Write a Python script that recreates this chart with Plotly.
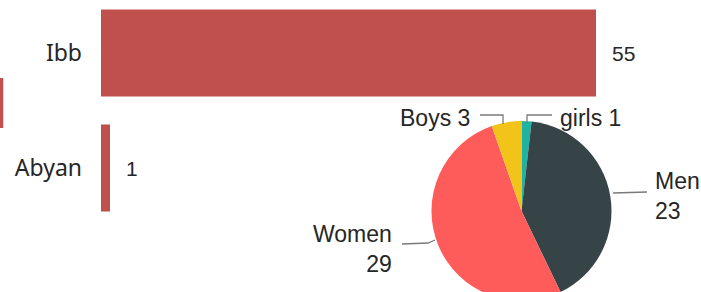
import plotly.graph_objects as go

# ---- data ----
bar_categories = ["Abyan", "Ibb"]
bar_values = [1, 55]

edge_bar_values = [1]  # clipped bar visible at the far left edge

pie_labels = ["girls", "Men", "Women", "Boys"]
pie_values = [1, 23, 29, 3]
pie_colors = ["#1fb3a3", "#364448", "#fd5c5a", "#f2c318"]

W, H = 701, 310
BAR_COLOR = "#c0504d"
LABEL_FONT = "Liberation Sans"
CAT_FONT = "Noto Sans"
TXT = "#262626"

fig = go.Figure()

fig.add_trace(go.Bar(
    x=bar_values, y=bar_categories, orientation="h",
    marker=dict(color=BAR_COLOR, line=dict(width=0)),
    xaxis="x", yaxis="y", showlegend=False, hoverinfo="skip",
))

fig.add_trace(go.Bar(
    x=edge_bar_values, y=[0], orientation="h", width=1,
    marker=dict(color=BAR_COLOR, line=dict(width=0)),
    xaxis="x3", yaxis="y3", showlegend=False, hoverinfo="skip",
))

fig.add_trace(go.Pie(
    labels=pie_labels, values=pie_values, sort=False, direction="clockwise",
    rotation=0, marker=dict(colors=pie_colors, line=dict(width=0)),
    textinfo="none", hoverinfo="skip", showlegend=False,
    domain=dict(x=[431.5 / W, 611.5 / W], y=[9 / H, 189 / H]),
))

def px(x, y):
    return x / W, 1 - y / H

annotations = []
# value labels for bars (category index positions)
for i, (cat, val) in enumerate(zip(bar_categories, bar_values)):
    annotations.append(dict(
        x=val, y=i, xref="x", yref="y", text=str(val), showarrow=False,
        xanchor="left", yanchor="middle", xshift=14,
        font=dict(family=LABEL_FONT, size=21, color=TXT),
    ))

# pie labels
lab = {l: v for l, v in zip(pie_labels, pie_values)}
pie_text = [
    (f"Boys {lab['Boys']}", 472, 118, "right", "right"),
    (f"girls {lab['girls']}", 558, 118, "left", "left"),
    (f"Men<br>{lab['Men']}", 653, 196, "left", "left"),
    (f"Women<br>{lab['Women']}", 394, 249, "right", "right"),
]
for t, x, y, xa, al in pie_text:
    xp, yp = px(x, y)
    annotations.append(dict(
        x=xp, y=yp, xref="paper", yref="paper", text=t, showarrow=False,
        xanchor=xa, yanchor="middle", align=al,
        font=dict(family=LABEL_FONT, size=23, color=TXT),
    ))

# leader lines
leaders = [
    [(503, 124), (503, 115), (480, 115)],
    [(527, 123), (527, 115), (552, 115)],
    [(613, 193), (647, 192)],
    [(435, 240), (428, 243), (402, 244)],
]
shapes = []
for pts in leaders:
    path = ""
    for i, (x, y) in enumerate(pts):
        xp, yp = px(x, y)
        path += ("M" if i == 0 else " L") + f" {xp:.5f},{yp:.5f}"
    shapes.append(dict(type="path", path=path, xref="paper", yref="paper",
                       line=dict(color="#7a7a7a", width=1.3)))

fig.update_layout(
    width=W, height=H,
    margin=dict(l=0, r=0, t=0, b=0),
    paper_bgcolor="white", plot_bgcolor="white",
    font=dict(family=LABEL_FONT, size=21, color=TXT),
    bargap=0.245,
    xaxis=dict(domain=[101 / W, 1], range=[0, 600 / 9], visible=False, fixedrange=True),
    yaxis=dict(domain=[0, 1], range=[-(310 - 168) / 115, 1 + 53 / 115],
               showgrid=False, zeroline=False, showline=False, ticks="",
               ticklabelstandoff=18,
               tickfont=dict(family=CAT_FONT, size=23, color=TXT)),
    xaxis3=dict(domain=[0, 3.5 / W], range=[0, 1], visible=False, anchor="y3"),
    yaxis3=dict(domain=[(H - 128) / H, (H - 78) / H], range=[-0.5, 0.5],
                visible=False, anchor="x3"),
    annotations=annotations,
    shapes=shapes,
)

fig.write_html(
    "out.html",
    config={"displayModeBar": False},
    post_script="document.documentElement.style.overflow='hidden';"
                "document.body.style.overflow='hidden';document.body.style.margin='0';",
)
